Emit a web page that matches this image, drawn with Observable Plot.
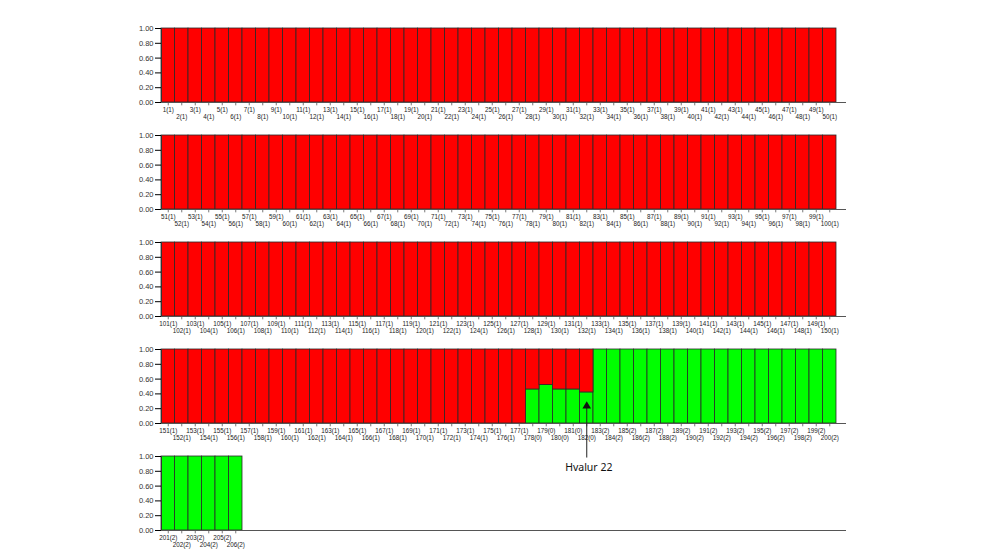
<!DOCTYPE html>
<html><head><meta charset="utf-8">
<script src="https://cdn.jsdelivr.net/npm/d3@7"></script>
<script src="https://cdn.jsdelivr.net/npm/@observablehq/plot@0.6"></script>
<style>
body{margin:0;background:#fff;}
#chart{padding-top:23px;width:992px;}
#chart svg{display:block;overflow:visible;background:transparent;}
</style></head><body><div id="chart"></div>
<script>
// Sample ids, population codes shown in brackets, and share of the green cluster
const sampleIds = d3.range(1, 207);
const populationCodes = [...Array(177).fill(1), 0, 0, 0, 0, 0, ...Array(24).fill(2)];
const greenShares = [...Array(177).fill(0), 0.46, 0.52, 0.46, 0.46, 0.42, ...Array(24).fill(1)];
const yTicks = [0, 0.2, 0.4, 0.6, 0.8, 1];
const annotationSample = 182;
const annotationLabel = "Hvalur 22";
const annotationArrowY = [-0.46, 0.235];
const annotationTextY = -0.59;

const perRow = 50;
const rows = d3.range(Math.ceil(sampleIds.length / perRow));
const data = sampleIds.map((id, i) => ({
  id, pop: populationCodes[i], green: greenShares[i],
  row: Math.floor(i / perRow), slot: i % perRow
}));

const RED = "#ff0000", GREEN = "#00ff00", EDGE = "#2a2a2a";
const container = document.getElementById("chart");

for (const r of rows) {
  const rd = data.filter(d => d.row === r);
  const marks = [
    Plot.rect(rd, {x1: d => d.slot, x2: d => d.slot + 1, y1: 0, y2: "green", fill: GREEN, stroke: EDGE, strokeWidth: 0.8}),
    Plot.rect(rd, {x1: d => d.slot, x2: d => d.slot + 1, y1: "green", y2: 1, fill: RED, stroke: EDGE, strokeWidth: 0.8}),
    Plot.ruleY([0], {stroke: "#555", strokeWidth: 1}),
    Plot.ruleX([0], {y1: 0, y2: 1, stroke: "#333", strokeWidth: 1}),
    Plot.axisY({ticks: yTicks, tickFormat: d => d.toFixed(2), tickSize: 6, tickPadding: 2, fontSize: 7.5, fill: "#333", label: null}),
    Plot.ruleX(rd, {x: d => d.slot + 0.5, y1: 0, y2: -0.045, stroke: "#555", strokeWidth: 0.8}),
    Plot.text(rd.filter(d => d.slot % 2 === 0), {x: d => d.slot + 0.5, y: 0, text: d => `${d.id}(${d.pop})`, dy: 7, fontSize: 6.3, fill: "#222", lineAnchor: "middle"}),
    Plot.text(rd.filter(d => d.slot % 2 === 1), {x: d => d.slot + 0.5, y: 0, text: d => `${d.id}(${d.pop})`, dy: 14.5, fontSize: 6.3, fill: "#222", lineAnchor: "middle"})
  ];
  const ann = rd.filter(d => d.id === annotationSample);
  if (ann.length) {
    marks.push(
      Plot.link(ann, {x1: d => d.slot + 0.5, x2: d => d.slot + 0.5, y1: annotationArrowY[0], y2: annotationArrowY[1], stroke: "#222", strokeWidth: 1}),
      Plot.dot(ann, {x: d => d.slot + 0.5, y: annotationArrowY[1], symbol: "triangle", r: 3.2, fill: "#111", stroke: "none"}),
      Plot.text(ann, {x: d => d.slot + 0.65, y: annotationTextY, text: () => annotationLabel, fontSize: 10.5, fill: "#111", lineAnchor: "middle", fontFamily: "Noto Sans, sans-serif"})
    );
  }
  const svg = Plot.plot({
    width: 992, height: 107,
    marginTop: 5, marginBottom: 28, marginLeft: 161, marginRight: 146,
    x: {type: "linear", domain: [0, 685 / 13.5], axis: null},
    y: {domain: [0, 1], axis: null},
    style: {fontFamily: "Liberation Sans, Arial, sans-serif", background: "transparent", overflow: "visible"},
    marks
  });
  container.appendChild(svg);
}
</script></body></html>
